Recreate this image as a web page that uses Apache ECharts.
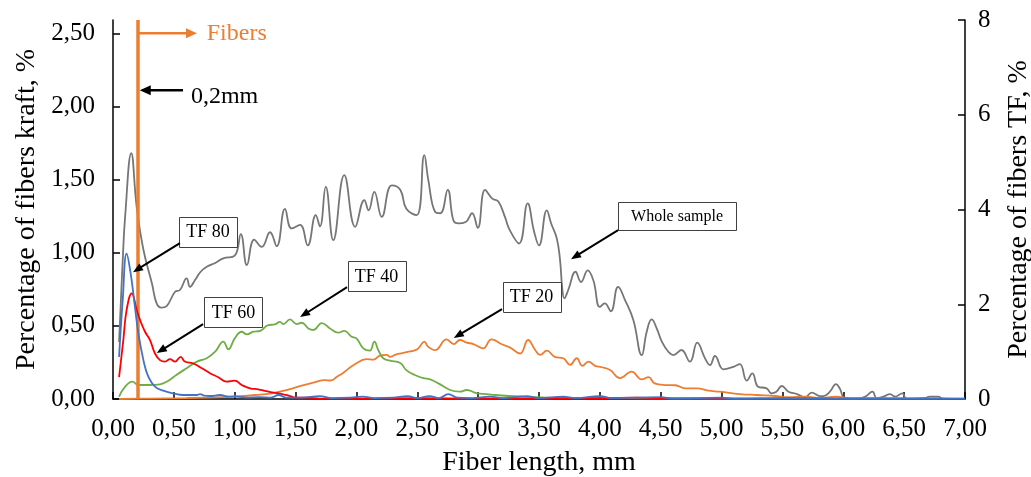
<!DOCTYPE html>
<html>
<head>
<meta charset="utf-8">
<script src="https://cdn.jsdelivr.net/npm/echarts@6/dist/echarts.min.js"></script>
<style>
  html, body { margin: 0; padding: 0; background: #ffffff; }
  #chart { width: 1031px; height: 477px; }
</style>
</head>
<body>
<div id="chart"></div>
<script>
// Fibre length distributions: whole kraft sample (left axis) and TF fractions (right axis)

// Tick values
const xTicks = [0, 0.5, 1, 1.5, 2, 2.5, 3, 3.5, 4, 4.5, 5, 5.5, 6, 6.5, 7];
const leftTicks = [0, 0.5, 1, 1.5, 2, 2.5];
const rightTicks = [0, 2, 4, 6, 8];

// Cut-off length of the fibre fraction, mm
const fiberCut = 0.2;

// [fiber length mm, percentage of fibers kraft %]
const wholeSample = [
  [0.05,0.39],[0.08,0.95],[0.10,1.25],[0.15,1.68],[0.195,1.31],[0.25,1.02],[0.32,0.79],[0.36,0.65],
  [0.40,0.625],[0.44,0.635],[0.51,0.733],[0.55,0.745],[0.605,0.824],[0.633,0.767],[0.674,0.813],
  [0.72,0.87],[0.77,0.904],[0.84,0.93],[0.906,0.961],[1.0,0.98],[1.05,1.127],[1.10,0.915],[1.16,1.09],
  [1.222,1.04],[1.29,1.14],[1.345,1.045],[1.413,1.30],[1.468,1.166],[1.537,1.19],[1.60,1.05],
  [1.666,1.257],[1.70,1.18],[1.748,1.45],[1.81,1.086],[1.90,1.53],[1.99,1.177],[2.065,1.36],
  [2.10,1.29],[2.147,1.416],[2.208,1.245],[2.29,1.46],[2.36,1.43],[2.41,1.30],[2.495,1.257],
  [2.558,1.667],[2.59,1.50],[2.646,1.28],[2.69,1.27],[2.75,1.43],[2.797,1.22],[2.837,1.20],
  [2.898,1.21],[2.95,1.27],[2.997,1.17],[3.057,1.43],[3.117,1.37],[3.166,1.35],[3.22,1.245],
  [3.26,1.154],[3.336,1.063],[3.407,1.337],[3.46,1.143],[3.50,1.05],[3.564,1.29],[3.60,1.20],
  [3.646,1.098],[3.673,0.95],[3.69,0.767],[3.708,0.688],[3.74,0.745],[3.80,0.87],[3.845,0.80],
  [3.90,0.88],[3.947,0.81],[4.0,0.63],[4.04,0.654],[4.09,0.60],[4.15,0.767],[4.207,0.676],
  [4.275,0.54],[4.344,0.30],[4.385,0.46],[4.426,0.544],[4.467,0.483],[4.51,0.39],[4.563,0.323],
  [4.604,0.30],[4.67,0.335],[4.74,0.255],[4.80,0.385],[4.864,0.278],[4.905,0.232],[4.946,0.294],
  [5.015,0.203],[5.097,0.22],[5.15,0.239],[5.207,0.125],[5.253,0.175],[5.30,0.084],[5.37,0.073],
  [5.41,0.039],[5.45,0.05],[5.495,0.089],[5.55,0.05],[5.62,0.034],[5.686,0.012],[5.74,0.043],
  [5.81,0.02],[5.837,0.02],[5.89,0.05],[5.94,0.102],[5.97,0.073],[6.015,0.005],[6.11,0.0],
  [6.18,0.016],[6.24,0.05],[6.275,0.005],[6.33,0.016],[6.385,0.034],[6.425,0.016],[6.485,0.039],
  [6.52,0.0],[6.67,0.007],[6.71,0.016],[6.78,0.016],[6.82,0.002],[6.9,0.0]
];

// [fiber length mm, percentage of fibers TF %]
const tf80 = [
  [0.05,0.89],[0.08,2.1],[0.112,3.07],[0.145,2.65],[0.18,1.95],[0.208,1.39],[0.25,0.82],[0.29,0.47],
  [0.345,0.26],[0.413,0.175],[0.496,0.12],[0.55,0.09],[0.605,0.084],[0.69,0.084],[0.715,0.105],
  [0.75,0.07],[0.80,0.063],[0.88,0.084],[0.95,0.05],[1.02,0.05],[1.1,0.03],[1.2,0.04],[1.3,0.03],
  [1.36,0.084],[1.42,0.03],[1.55,0.03],[1.7,0.06],[1.8,0.02],[1.95,0.03],[2.05,0.05],[2.15,0.02],
  [2.3,0.03],[2.42,0.06],[2.5,0.02],[2.6,0.06],[2.68,0.02],[2.755,0.105],[2.83,0.03],[2.95,0.02],
  [3.1,0.05],[3.2,0.02],[3.4,0.06],[3.5,0.02],[3.7,0.05],[3.8,0.02],[4.0,0.06],[4.1,0.02],
  [4.5,0.04],[4.6,0.01],[5.0,0.03],[5.1,0.01],[5.5,0.02],[6.0,0.01],[7.0,0.01]
];
const tf60 = [
  [0.05,0.46],[0.085,1.25],[0.112,1.88],[0.154,2.23],[0.195,1.88],[0.222,1.67],[0.263,1.42],
  [0.304,1.245],[0.345,0.96],[0.386,0.82],[0.427,0.79],[0.468,0.84],[0.51,0.79],[0.556,0.89],
  [0.59,0.79],[0.66,0.75],[0.73,0.65],[0.80,0.54],[0.865,0.46],[0.934,0.365],[1.0,0.386],
  [1.057,0.295],[1.126,0.225],[1.194,0.205],[1.25,0.17],[1.317,0.133],[1.38,0.11],[1.454,0.063],
  [1.5,0.03],[1.6,0.03],[1.7,0.01],[2.0,0.01],[2.5,0.02],[3.0,0.01],[4.0,0.02],[4.3,0.03],
  [4.6,0.01],[5.5,0.01],[7.0,0.0]
];
const tf40 = [
  [0.05,0.05],[0.1,0.26],[0.16,0.365],[0.21,0.295],[0.30,0.295],[0.386,0.31],[0.455,0.386],
  [0.52,0.506],[0.605,0.65],[0.69,0.79],[0.77,0.86],[0.84,1.0],[0.906,1.21],[0.948,1.05],[1.0,1.28],
  [1.057,1.42],[1.10,1.365],[1.153,1.42],[1.21,1.44],[1.276,1.56],[1.33,1.575],[1.372,1.63],
  [1.40,1.58],[1.454,1.68],[1.51,1.58],[1.55,1.61],[1.605,1.49],[1.646,1.456],[1.715,1.60],
  [1.783,1.49],[1.85,1.40],[1.90,1.44],[1.96,1.315],[2.0,1.28],[2.057,1.07],[2.11,1.02],
  [2.147,1.21],[2.18,1.03],[2.22,0.86],[2.276,0.81],[2.36,0.76],[2.41,0.61],[2.48,0.506],
  [2.55,0.44],[2.605,0.415],[2.673,0.33],[2.77,0.19],[2.85,0.155],[2.906,0.19],[2.99,0.12],
  [3.07,0.105],[3.14,0.084],[3.25,0.063],[3.36,0.05],[3.47,0.04],[3.7,0.02],[4.2,0.02],
  [5.0,0.01],[7.0,0.0]
];
const tf20 = [
  [0.05,0.0],[0.3,0.01],[0.6,0.02],[0.9,0.04],[1.05,0.06],[1.167,0.084],[1.30,0.12],[1.44,0.2],
  [1.55,0.28],[1.646,0.345],[1.74,0.4],[1.79,0.39],[1.84,0.47],[1.89,0.55],[1.99,0.74],
  [2.085,0.84],[2.14,0.83],[2.19,0.91],[2.25,0.93],[2.276,0.89],[2.317,0.93],[2.36,0.96],
  [2.43,1.0],[2.5,1.05],[2.558,1.21],[2.59,1.10],[2.646,1.03],[2.74,1.26],[2.80,1.16],[2.85,1.245],
  [2.906,1.19],[2.96,1.16],[3.04,1.07],[3.11,1.26],[3.19,1.16],[3.26,1.09],[3.345,0.96],
  [3.41,1.245],[3.47,1.03],[3.51,0.93],[3.564,1.02],[3.63,0.89],[3.70,0.86],[3.755,0.72],
  [3.81,0.86],[3.856,0.70],[3.906,0.79],[3.96,0.70],[4.016,0.67],[4.084,0.61],[4.166,0.44],
  [4.26,0.576],[4.344,0.415],[4.40,0.46],[4.45,0.33],[4.536,0.295],[4.62,0.29],[4.70,0.225],
  [4.80,0.225],[4.89,0.175],[4.986,0.155],[5.15,0.105],[5.29,0.084],[5.44,0.063],[5.55,0.04],
  [5.69,0.05],[5.81,0.02],[5.94,0.05],[6.05,0.02],[7.0,0.01]
];

const FONT = '"Liberation Serif", "Times New Roman", serif';
const comma = (v, d) => v.toFixed(d).replace('.', ',');

const chart = echarts.init(document.getElementById('chart'), null, { renderer: 'canvas' });

const axisLineStyle = { show: true, lineStyle: { color: '#000', width: 1.5 } };
const tickStyle = { show: true, inside: true, length: 7, lineStyle: { color: '#000', width: 1.5 } };

function lineSeries(name, data, color, yIndex, z) {
  return {
    name, type: 'line', data, yAxisIndex: yIndex, z,
    smooth: 0.45, symbol: 'none', silent: true, animation: false,
    lineStyle: { color, width: 1.8 }
  };
}

const series = [
  lineSeries('Whole sample', wholeSample, '#767676', 0, 2),
  lineSeries('TF 20', tf20, '#ED7D31', 1, 3),
  lineSeries('TF 40', tf40, '#70AD47', 1, 4),
  lineSeries('TF 60', tf60, '#FF0000', 1, 5),
  lineSeries('TF 80', tf80, '#4472C4', 1, 6)
];
// vertical marker at the fibre cut-off length
series[4].markLine = {
  silent: true, symbol: 'none', animation: false,
  label: { show: false },
  lineStyle: { color: '#ED7D31', width: 3.5, type: 'solid' },
  data: [{ xAxis: fiberCut }]
};

chart.setOption({
  animation: false,
  backgroundColor: '#ffffff',
  grid: { left: 113, right: 66, top: 20, bottom: 78, containLabel: false, outerBoundsMode: 'none' },
  xAxis: {
    type: 'value', min: 0, max: 7, interval: 0.5,
    name: 'Fiber length, mm', nameLocation: 'middle', nameGap: 50,
    nameTextStyle: { fontFamily: FONT, fontSize: 28, color: '#000' },
    axisLine: axisLineStyle, axisTick: tickStyle, splitLine: { show: false },
    axisLabel: {
      fontFamily: FONT, fontSize: 25, color: '#000', margin: 18,
      customValues: xTicks, formatter: v => comma(v, 2)
    }
  },
  yAxis: [
    {
      type: 'value', min: 0, max: 2.591, position: 'left',
      name: 'Percentage of fibers kraft, %', nameLocation: 'middle', nameGap: 67, nameRotate: 90,
      nameTextStyle: { fontFamily: FONT, fontSize: 28, color: '#000' },
      axisLine: axisLineStyle,
      axisTick: Object.assign({}, tickStyle, { customValues: leftTicks }),
      splitLine: { show: false },
      axisLabel: {
        fontFamily: FONT, fontSize: 25, color: '#000', margin: 18,
        customValues: leftTicks, formatter: v => comma(v, 2)
      }
    },
    {
      type: 'value', min: 0, max: 8, interval: 2, position: 'right',
      name: 'Percentage of fibers TF, %', nameLocation: 'middle', nameGap: 40, nameRotate: 90,
      nameTextStyle: { fontFamily: FONT, fontSize: 28, color: '#000' },
      axisLine: axisLineStyle, axisTick: tickStyle, splitLine: { show: false },
      axisLabel: {
        fontFamily: FONT, fontSize: 25, color: '#000', margin: 13,
        customValues: rightTicks, formatter: v => String(v)
      }
    }
  ],
  series
});

// Annotation layout (data coordinates on the bottom / left axes)
const callouts = [
  { text: 'TF 80',        box: [0.78, 1.144],  w: 58,  h: 30, size: 18, from: [0.55, 1.066],  to: [0.164, 0.867] },
  { text: 'TF 60',        box: [0.99, 0.594],  w: 58,  h: 30, size: 18, from: [0.74, 0.512],  to: [0.36, 0.314] },
  { text: 'TF 40',        box: [2.165, 0.84],  w: 58,  h: 30, size: 18, from: [1.923, 0.765], to: [1.537, 0.56] },
  { text: 'TF 20',        box: [3.439, 0.70],  w: 58,  h: 30, size: 18, from: [3.196, 0.615], to: [2.80, 0.417] },
  { text: 'Whole sample', box: [4.634, 1.25],  w: 118, h: 28, size: 16, from: [4.15, 1.154],  to: [3.763, 0.956] }
];

const px = p => chart.convertToPixel({ xAxisIndex: 0, yAxisIndex: 0 }, p);

function arrow(p0, p1, color, width, headLen, headW) {
  const dx = p1[0] - p0[0], dy = p1[1] - p0[1];
  const len = Math.hypot(dx, dy);
  const ux = dx / len, uy = dy / len;
  const bx = p1[0] - ux * headLen, by = p1[1] - uy * headLen;
  const nx = -uy * headW / 2, ny = ux * headW / 2;
  return [
    { type: 'line', silent: true, z: 100,
      shape: { x1: p0[0], y1: p0[1], x2: bx + ux, y2: by + uy },
      style: { stroke: color, lineWidth: width } },
    { type: 'polygon', silent: true, z: 100,
      shape: { points: [[p1[0], p1[1]], [bx + nx, by + ny], [bx - nx, by - ny]] },
      style: { fill: color } }
  ];
}

const graphics = [];
const cutTop = px([fiberCut, 2.5]);
const fibersEnd = px([0.69, 2.5]);
graphics.push(...arrow([cutTop[0] + 1, cutTop[1]], fibersEnd, '#ED7D31', 2.5, 11, 10));
const fibersText = px([0.77, 2.495]);
graphics.push({
  type: 'text', silent: true, z: 100, x: fibersText[0], y: fibersText[1],
  style: { text: 'Fibers', fill: '#ED7D31', font: '24px ' + FONT, textAlign: 'left', textVerticalAlign: 'middle' }
});

graphics.push(...arrow(px([0.575, 2.11]), px([0.22, 2.11]), '#000', 2.5, 11, 10));
const mmText = px([0.64, 2.07]);
graphics.push({
  type: 'text', silent: true, z: 100, x: mmText[0], y: mmText[1],
  style: { text: '0,2mm', fill: '#000', font: '24px ' + FONT, textAlign: 'left', textVerticalAlign: 'middle' }
});

callouts.forEach(c => {
  const b = px(c.box);
  graphics.push({
    type: 'rect', silent: true, z: 100,
    shape: { x: Math.round(b[0] - c.w / 2) + 0.5, y: Math.round(b[1] - c.h / 2) + 0.5, width: c.w, height: c.h },
    style: { fill: '#fff', stroke: '#404040', lineWidth: 1 }
  });
  graphics.push({
    type: 'text', silent: true, z: 101, x: b[0], y: b[1] + 1,
    style: { text: c.text, fill: '#000', font: c.size + 'px ' + FONT, textAlign: 'center', textVerticalAlign: 'middle' }
  });
  graphics.push(...arrow(px(c.from), px(c.to), '#000', 2, 10, 8));
});

chart.setOption({ graphic: graphics });
</script>
</body>
</html>
